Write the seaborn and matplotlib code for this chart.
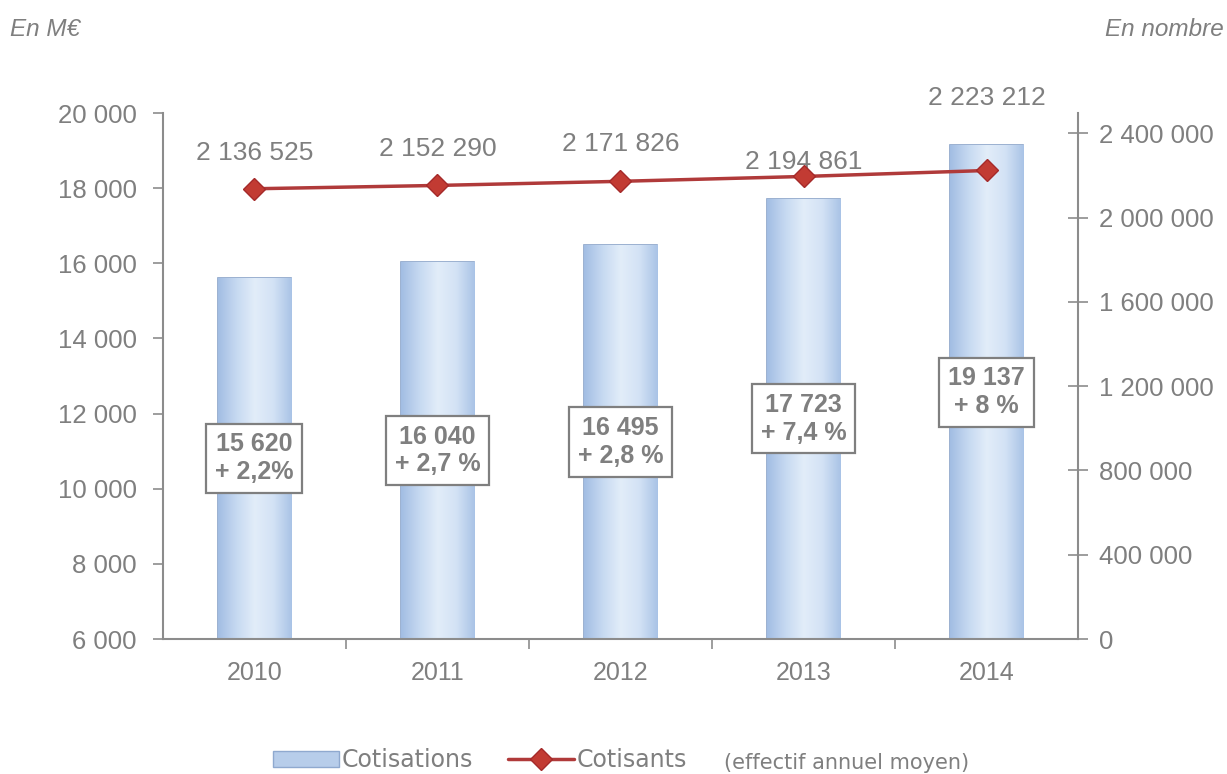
import numpy as np
import pandas as pd
import matplotlib
matplotlib.use("Agg")
import matplotlib.pyplot as plt
import seaborn as sns
from matplotlib.lines import Line2D
from matplotlib.patches import Patch
from matplotlib.colors import LinearSegmentedColormap

# ==========================
# DATA
# ==========================

years = ["2010", "2011", "2012", "2013", "2014"]
cotisations = [15620, 16040, 16495, 17723, 19137]
evolutions = ["+ 2,2%", "+ 2,7 %", "+ 2,8 %", "+ 7,4 %", "+ 8 %"]
cotisants = [2136525, 2152290, 2171826, 2194861, 2223212]

left_ticks = [6000, 8000, 10000, 12000, 14000, 16000, 18000, 20000]
right_ticks = [0, 400000, 800000, 1200000, 1600000, 2000000, 2400000]

# label offsets (pixels) above the line points
line_label_dy = [36, 36, 37, 14, 72]

df = pd.DataFrame({"annee": years, "cotisations": cotisations})

GREY = "#7f7f7f"
AXIS = "#8c8c8c"
RED = "#b03a3a"

def fmt(v):
    return f"{int(v):,}".replace(",", " ")

sns.set_theme(style="white")
plt.rcParams["font.family"] = ["Liberation Sans", "DejaVu Sans"]

fig = plt.figure(figsize=(12.27, 7.74), dpi=100)
ax = fig.add_axes([0.1328, 0.1744, 0.7458, 0.6796])

# ==========================
# BARS
# ==========================

sns.barplot(data=df, x="annee", y="cotisations", ax=ax, width=0.4,
            color="#a9c4e8", edgecolor="#8aa3c8", linewidth=1.2, zorder=2)

cmap = LinearSegmentedColormap.from_list(
    "bar", ["#a2bde3", "#c6d9f1", "#e2edf9", "#d3e2f5", "#a9c3e6"])
grad = np.linspace(0, 1, 256).reshape(1, -1)
for p in ax.patches:
    x0, y0 = p.get_x(), 6000
    w, h = p.get_width(), p.get_height()
    im = ax.imshow(grad, cmap=cmap, aspect="auto", extent=[x0, x0 + w, y0, y0 + h],
                   zorder=2.1)
    im.set_clip_path(p)
    # top bevel
    ax.add_patch(plt.Rectangle((x0, y0 + h - 90), w, 90, facecolor="#d9e6f6",
                               edgecolor="none", zorder=2.2))

ax.set_xlim(-0.5, 4.5)
ax.set_ylim(6000, 20000)

for i, (v, e) in enumerate(zip(cotisations, evolutions)):
    ax.text(i, (v + 6000) / 2, f"{fmt(v)}\n{e}", ha="center", va="center",
            fontsize=18, fontweight="bold", color=GREY, linespacing=1.2, zorder=5,
            bbox=dict(boxstyle="square,pad=0.35", facecolor="white",
                      edgecolor=GREY, linewidth=1.6))

ax.set_yticks(left_ticks)
ax.set_yticklabels([fmt(t) for t in left_ticks])
ax.set_xlabel("")
ax.set_ylabel("")
ax.tick_params(axis="y", colors=AXIS, labelsize=18.5, length=7, width=1.2,
               direction="out", left=True, labelcolor=GREY, pad=12)
ax.tick_params(axis="x", colors=GREY, labelsize=18, length=0, pad=16,
               labelcolor=GREY)
ax.set_xticks([0.5, 1.5, 2.5, 3.5], minor=True)
ax.tick_params(axis="x", which="minor", length=7, width=1.2, color=AXIS,
               direction="out", bottom=True)
for s in ["left", "bottom"]:
    ax.spines[s].set_color(AXIS)
    ax.spines[s].set_linewidth(1.5)
ax.spines["top"].set_visible(False)
ax.spines["right"].set_visible(False)

# ==========================
# LINE (right axis)
# ==========================

ax2 = ax.twinx()
ax2.plot(range(len(years)), cotisants, color=RED, linewidth=2.5, marker="D",
         markersize=11, markerfacecolor="#c23b33", markeredgecolor="#a52a2a", zorder=4)
ax2.set_ylim(0, 2496000)
ax2.set_yticks(right_ticks)
ax2.set_yticklabels([fmt(t) for t in right_ticks])
ax2.tick_params(axis="y", colors=AXIS, labelcolor=GREY, labelsize=18.5, length=14,
                width=1.2, direction="inout", right=True, pad=8)
ax2.grid(False)
for s in ["left", "top", "bottom"]:
    ax2.spines[s].set_visible(False)
ax2.spines["right"].set_color(AXIS)
ax2.spines["right"].set_linewidth(1.5)

for i, (v, dy) in enumerate(zip(cotisants, line_label_dy)):
    ax2.annotate(fmt(v), (i, v), xytext=(0, dy), textcoords="offset pixels",
                 ha="center", va="center", fontsize=19, color=GREY)

# ==========================
# TITLES + LEGEND
# ==========================

fig.text(0.008, 0.962, "En M€", fontsize=17.5, style="italic", color=GREY,
         ha="left", va="center")
fig.text(0.997, 0.962, "En nombre", fontsize=17.5, style="italic", color=GREY,
         ha="right", va="center")

handles = [Patch(facecolor="#b7cdea", edgecolor="#8fa9cf"),
           Line2D([0], [0], color=RED, linewidth=2.5, marker="D", markersize=11,
                  markerfacecolor="#c23b33", markeredgecolor="#a52a2a")]
fig.legend(handles, ["Cotisations", "Cotisants"], loc="center",
           bbox_to_anchor=(0.391, 0.018), ncol=2, frameon=False,
           labelcolor=GREY, handlelength=2.8, handletextpad=0.1,
           columnspacing=1.5, prop={"family": "DejaVu Sans Condensed", "size": 17})
fig.text(0.69, 0.014, "(effectif annuel moyen)", fontsize=15, color=GREY,
         family="DejaVu Sans Condensed", ha="center", va="center")

plt.savefig("out.png", dpi=100)
plt.close()
